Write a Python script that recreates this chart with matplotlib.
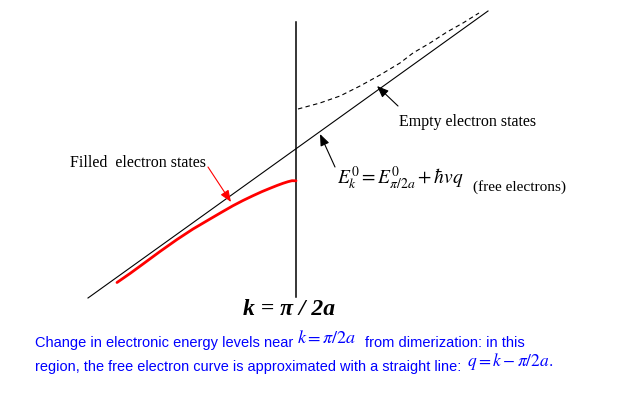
import matplotlib
matplotlib.use("Agg")
import matplotlib.pyplot as plt

plt.rcParams['mathtext.fontset'] = 'stix'

# diagram values (pixel coords, y downwards)
free_x = [88, 488]
free_y = [299, 12]

kline_x = [296, 296]
kline_y = [23, 298]

empty_x = [298, 320, 340, 360, 380, 400, 413, 430, 447, 463, 479]
empty_y = [110, 104, 97, 87, 76, 64, 54, 44, 33, 24, 14]

filled_x = [117, 130, 143, 160, 177, 193, 210, 222, 233, 243, 253, 262, 270, 277, 283, 288, 292, 296]
filled_y = [283.5, 274.5, 265, 252.5, 240.5, 230, 220, 213, 206.7, 201.5, 196.7, 192.6, 189.3, 186.5, 184.3, 182.7, 181.7, 181.8]

serif = 'Liberation Serif'
blue = '#0000ff'

fig = plt.figure(figsize=(6.24, 4.10), dpi=100)
ax = fig.add_axes([0, 0, 1, 1])
ax.set_xlim(0, 624)
ax.set_ylim(410, 0)
ax.axis('off')

ax.plot(free_x, free_y, color='black', lw=0.8)
ax.plot(kline_x, kline_y, color='black', lw=1.1)
ax.plot(empty_x, empty_y, color='black', lw=0.8, ls=(0, (4, 3)))
ax.plot(filled_x, filled_y, color='#ff0000', lw=2.0, solid_capstyle='round',
        solid_joinstyle='round')

arr = dict(arrowstyle='-|>,head_length=0.7,head_width=0.28', lw=0.8, shrinkA=0, shrinkB=0)
ax.annotate('', xy=(377, 87), xytext=(398, 107), arrowprops=dict(arr, color='black'))
ax.annotate('', xy=(320, 135), xytext=(335, 168), arrowprops=dict(arr, color='black'))
ax.annotate('', xy=(231, 203), xytext=(208, 168), arrowprops=dict(arr, color='#ff0000'))

ax.text(70, 163, 'Filled  electron states', family=serif, fontsize=11.5, va='center')
ax.text(399, 122, 'Empty electron states', family=serif, fontsize=11.5, va='center')
ax.text(337, 184, r'$E_k^0 = E_{\pi/2a}^0 + \hbar vq$', fontsize=14, va='baseline')
ax.text(473, 187, '(free electrons)', family=serif, fontsize=11, va='center')

ax.text(243, 310, 'k = π / 2a', family=serif, fontsize=17, weight='bold',
        style='italic', va='center')

ax.text(35, 343, 'Change in electronic energy levels near', family='Liberation Sans',
        fontsize=10.5, color=blue, va='center')
ax.text(297, 338, r'$k = \pi / 2a$', fontsize=13, color=blue, va='center')
ax.text(365, 343, 'from dimerization: in this', family='Liberation Sans',
        fontsize=10.5, color=blue, va='center')
ax.text(35, 367, 'region, the free electron curve is approximated with a straight line:',
        family='Liberation Sans', fontsize=10.45, color=blue, va='center')
ax.text(467, 362, r'$q = k - \pi / 2a.$', fontsize=12.5, color=blue, va='center')

fig.savefig('out.png', dpi=100)
